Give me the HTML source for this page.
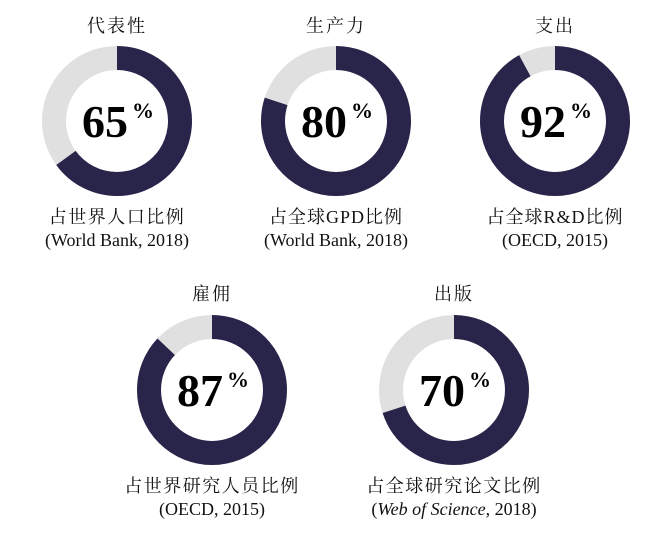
<!DOCTYPE html>
<html><head><meta charset="utf-8"><style>
body{margin:0;background:#fff;}
svg text{font-family:"Liberation Serif","Noto Serif CJK SC",serif;}
</style></head><body>
<svg width="648" height="532" viewBox="0 0 648 532" xmlns="http://www.w3.org/2000/svg">
<g fill="none" stroke-width="24">
<circle cx="117" cy="121" r="63" stroke="#e0e0e0"/>
<circle cx="117" cy="121" r="63" stroke="#29244a" stroke-dasharray="257.3 500" transform="rotate(-90 117 121)"/>
<circle cx="336" cy="121" r="63" stroke="#e0e0e0"/>
<circle cx="336" cy="121" r="63" stroke="#29244a" stroke-dasharray="316.7 500" transform="rotate(-90 336 121)"/>
<circle cx="555" cy="121" r="63" stroke="#e0e0e0"/>
<circle cx="555" cy="121" r="63" stroke="#29244a" stroke-dasharray="364.2 500" transform="rotate(-90 555 121)"/>
<circle cx="212" cy="390" r="63" stroke="#e0e0e0"/>
<circle cx="212" cy="390" r="63" stroke="#29244a" stroke-dasharray="344.4 500" transform="rotate(-90 212 390)"/>
<circle cx="454" cy="390" r="63" stroke="#e0e0e0"/>
<circle cx="454" cy="390" r="63" stroke="#29244a" stroke-dasharray="277.1 500" transform="rotate(-90 454 390)"/>
</g>
<g font-weight="bold" fill="#000">
<text x="105" y="137" font-size="46" text-anchor="middle">65</text><text x="132" y="118" font-size="22">%</text>
<text x="324" y="137" font-size="46" text-anchor="middle">80</text><text x="351" y="118" font-size="22">%</text>
<text x="543" y="137" font-size="46" text-anchor="middle">92</text><text x="570" y="118" font-size="22">%</text>
<text x="200" y="406" font-size="46" text-anchor="middle">87</text><text x="227" y="387" font-size="22">%</text>
<text x="442" y="406" font-size="46" text-anchor="middle">70</text><text x="469" y="387" font-size="22">%</text>
</g>
<g font-size="18" fill="#111" text-anchor="middle">
<text x="117" y="32" letter-spacing="2">代表性</text>
<text x="336" y="32" letter-spacing="2">生产力</text>
<text x="555" y="32" letter-spacing="2">支出</text>
<text x="212" y="300" letter-spacing="2">雇佣</text>
<text x="454" y="300" letter-spacing="2">出版</text>
<text x="117" y="223" letter-spacing="1.5">占世界人口比例</text>
<text x="117" y="246">(World Bank, 2018)</text>
<text x="336" y="223" letter-spacing="1">占全球GPD比例</text>
<text x="336" y="246">(World Bank, 2018)</text>
<text x="555" y="223" letter-spacing="1">占全球R&amp;D比例</text>
<text x="555" y="246">(OECD, 2015)</text>
<text x="212" y="492" letter-spacing="1.5">占世界研究人员比例</text>
<text x="212" y="515">(OECD, 2015)</text>
<text x="454" y="492" letter-spacing="1.5">占全球研究论文比例</text>
<text x="454" y="515">(<tspan font-style="italic">Web of Science</tspan>, 2018)</text>
</g>
</svg>
</body></html>
